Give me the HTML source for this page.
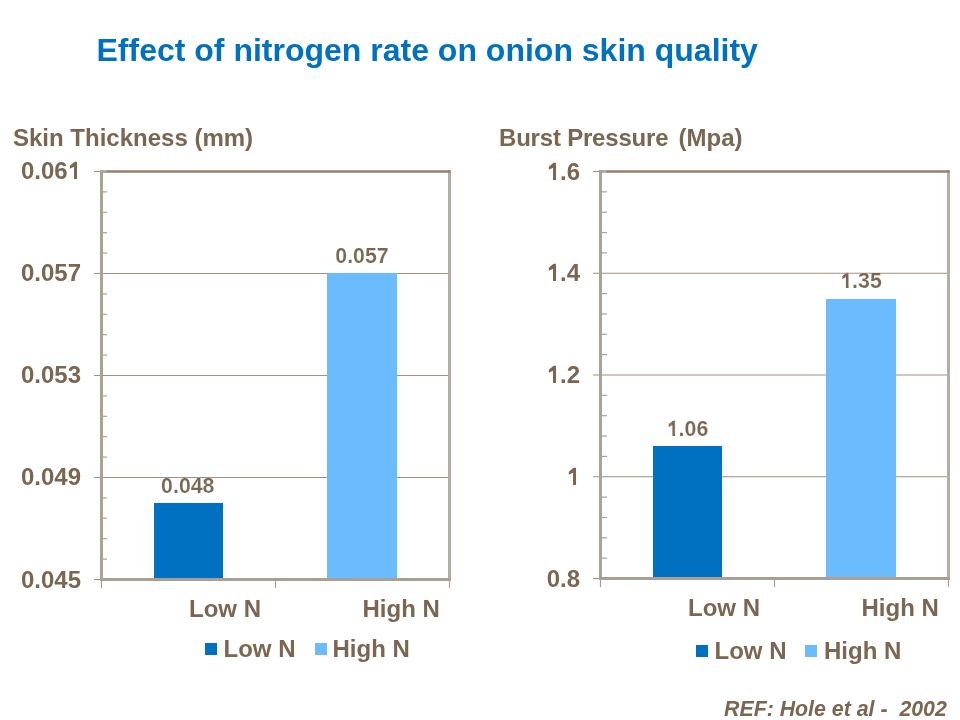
<!DOCTYPE html>
<html><head><meta charset="utf-8">
<style>
html,body{margin:0;padding:0;background:#fff;}
body{width:960px;height:720px;overflow:hidden;position:relative;}
svg{position:absolute;left:0;top:0;will-change:transform;}
text{font-family:"Liberation Sans",sans-serif;font-weight:bold;}
.t{fill:#7a6651;font-size:24px;}
.d{fill:#7a6651;font-size:21.33px;stroke:#fff;stroke-width:0.15px;}
</style></head>
<body>
<svg width="960" height="720" viewBox="0 0 960 720">
<defs><path id="one" d="M802 0L546 0L546 1040L187 870L187 1127L590 1466L802 1466Z"/></defs>
<g fill="#7a6651">
<use href="#one" transform="translate(67.640625,179) scale(0.01171875,-0.01171875)"/>
<use href="#one" transform="translate(546.625,180) scale(0.01171875,-0.01171875)"/>
<use href="#one" transform="translate(546.625,281) scale(0.01171875,-0.01171875)"/>
<use href="#one" transform="translate(546.625,383) scale(0.01171875,-0.01171875)"/>
<use href="#one" transform="translate(566.640625,485) scale(0.01171875,-0.01171875)"/>
<use href="#one" transform="translate(666.7421875,436) scale(0.010415,-0.010415)"/>
<use href="#one" transform="translate(840.2421875,288) scale(0.010415,-0.010415)"/>
</g>
<!-- title -->
<text x="96.5" y="60.5" style="font-size:32px;fill:#0070c0">Effect of nitrogen rate on onion skin quality</text>
<text class="t" x="13" y="146">Skin Thickness (mm)</text>
<text class="t" x="499" y="146" letter-spacing="-0.2">Burst Pressure</text><text class="t" x="678.5" y="146">(Mpa)</text>

<!-- LEFT CHART -->
<g>
<!-- gridlines -->
<g stroke="#9f9183" stroke-width="1.2">
<line x1="94" y1="273.5" x2="449.5" y2="273.5"/>
<line x1="94" y1="375.5" x2="449.5" y2="375.5"/>
<line x1="94" y1="477.5" x2="449.5" y2="477.5"/>
<line x1="94" y1="171.5" x2="100" y2="171.5"/>
<line x1="94" y1="579.5" x2="100" y2="579.5"/>
</g>
<!-- bars -->
<rect x="154" y="503" width="69" height="76.5" fill="#0070c0"/>
<rect x="327" y="273" width="70" height="306.5" fill="#6bbcff"/>
<!-- minor ticks -->
<g stroke="#aaa095" stroke-width="1.2">
<line x1="102" y1="191.9" x2="107" y2="191.9"/>
<line x1="102" y1="212.3" x2="107" y2="212.3"/>
<line x1="102" y1="232.7" x2="107" y2="232.7"/>
<line x1="102" y1="253.1" x2="107" y2="253.1"/>
<line x1="102" y1="293.9" x2="107" y2="293.9"/>
<line x1="102" y1="314.3" x2="107" y2="314.3"/>
<line x1="102" y1="334.7" x2="107" y2="334.7"/>
<line x1="102" y1="355.1" x2="107" y2="355.1"/>
<line x1="102" y1="395.9" x2="107" y2="395.9"/>
<line x1="102" y1="416.3" x2="107" y2="416.3"/>
<line x1="102" y1="436.7" x2="107" y2="436.7"/>
<line x1="102" y1="457.1" x2="107" y2="457.1"/>
<line x1="102" y1="497.9" x2="107" y2="497.9"/>
<line x1="102" y1="518.3" x2="107" y2="518.3"/>
<line x1="102" y1="538.7" x2="107" y2="538.7"/>
<line x1="102" y1="559.1" x2="107" y2="559.1"/>
<line x1="101.5" y1="580" x2="101.5" y2="588"/>
<line x1="275.5" y1="580" x2="275.5" y2="588"/>
<line x1="449.5" y1="580" x2="449.5" y2="588"/>
</g>
<!-- frame -->
<line x1="449.5" y1="170" x2="449.5" y2="581" stroke="#b7ada3" stroke-width="3"/>
<line x1="100" y1="579.5" x2="451" y2="579.5" stroke="#a99f94" stroke-width="3"/>
<line x1="107" y1="171.5" x2="449.5" y2="171.5" stroke="#928270" stroke-width="2.6" stroke-linecap="round"/>
<line x1="101.5" y1="170" x2="101.5" y2="581" stroke="#aba196" stroke-width="3"/>
<line x1="101" y1="171.5" x2="107" y2="171.5" stroke="#aba196" stroke-width="2.6"/>
<!-- labels -->
<g class="t" text-anchor="end">
<text x="81" y="179">0.06<tspan fill="transparent">1</tspan></text>
<text x="81" y="281">0.057</text>
<text x="81" y="383">0.053</text>
<text x="81" y="485">0.049</text>
<text x="81" y="588">0.045</text>
</g>
<text class="d" x="187.8" y="493" text-anchor="middle">0.048</text>
<text class="d" x="362" y="263" text-anchor="middle">0.057</text>
<text class="t" x="189" y="617">Low N</text>
<text class="t" x="362.5" y="617">High N</text>
<rect x="205" y="643" width="12" height="12" fill="#0070c0"/>
<text class="t" x="223.5" y="657">Low N</text>
<rect x="315" y="643" width="12" height="12" fill="#6bbcff"/>
<text class="t" x="332.5" y="657">High N</text>
</g>

<!-- RIGHT CHART -->
<g>
<g stroke="#9f9183" stroke-width="1.2">
<line x1="593" y1="273.25" x2="948.5" y2="273.25"/>
<line x1="593" y1="375" x2="948.5" y2="375"/>
<line x1="593" y1="476.75" x2="948.5" y2="476.75"/>
<line x1="593" y1="171.5" x2="599" y2="171.5"/>
<line x1="593" y1="578.5" x2="599" y2="578.5"/>
</g>
<rect x="653" y="446" width="69" height="132.5" fill="#0070c0"/>
<rect x="826" y="299" width="70" height="279.5" fill="#6bbcff"/>
<g stroke="#aaa095" stroke-width="1.2">
<line x1="601" y1="191.85" x2="607" y2="191.85"/>
<line x1="601" y1="212.2" x2="607" y2="212.2"/>
<line x1="601" y1="232.55" x2="607" y2="232.55"/>
<line x1="601" y1="252.9" x2="607" y2="252.9"/>
<line x1="601" y1="293.6" x2="607" y2="293.6"/>
<line x1="601" y1="313.95" x2="607" y2="313.95"/>
<line x1="601" y1="334.3" x2="607" y2="334.3"/>
<line x1="601" y1="354.65" x2="607" y2="354.65"/>
<line x1="601" y1="395.35" x2="607" y2="395.35"/>
<line x1="601" y1="415.7" x2="607" y2="415.7"/>
<line x1="601" y1="436.05" x2="607" y2="436.05"/>
<line x1="601" y1="456.4" x2="607" y2="456.4"/>
<line x1="601" y1="497.1" x2="607" y2="497.1"/>
<line x1="601" y1="517.45" x2="607" y2="517.45"/>
<line x1="601" y1="537.8" x2="607" y2="537.8"/>
<line x1="601" y1="558.15" x2="607" y2="558.15"/>
<line x1="600.5" y1="579" x2="600.5" y2="587"/>
<line x1="774.5" y1="579" x2="774.5" y2="587"/>
<line x1="948.5" y1="579" x2="948.5" y2="587"/>
</g>
<line x1="948.5" y1="170" x2="948.5" y2="580" stroke="#b7ada3" stroke-width="3"/>
<line x1="599" y1="578.5" x2="950" y2="578.5" stroke="#a99f94" stroke-width="3"/>
<line x1="607" y1="171.5" x2="948.5" y2="171.5" stroke="#928270" stroke-width="2.6" stroke-linecap="round"/>
<line x1="600.5" y1="170" x2="600.5" y2="580" stroke="#aba196" stroke-width="3"/>
<line x1="600" y1="171.5" x2="607" y2="171.5" stroke="#aba196" stroke-width="2.6"/>
<g class="t" text-anchor="end">
<text x="580" y="180"><tspan fill="transparent">1</tspan>.6</text>
<text x="580" y="281"><tspan fill="transparent">1</tspan>.4</text>
<text x="580" y="383"><tspan fill="transparent">1</tspan>.2</text>
<text x="580" y="485"><tspan fill="transparent">1</tspan></text>
<text x="580" y="587">0.8</text>
</g>
<text class="d" x="687.5" y="436" text-anchor="middle"><tspan fill="transparent">1</tspan>.06</text>
<text class="d" x="861" y="288" text-anchor="middle"><tspan fill="transparent">1</tspan>.35</text>
<text class="t" x="688" y="616">Low N</text>
<text class="t" x="861.5" y="616">High N</text>
<rect x="696" y="645" width="12" height="12" fill="#0070c0"/>
<text class="t" x="714.5" y="659">Low N</text>
<rect x="805" y="645" width="12" height="12" fill="#6bbcff"/>
<text class="t" x="824" y="659">High N</text>
</g>

<text x="724" y="716" style="font-size:21.33px;font-style:italic;fill:#7a6651" xml:space="preserve">REF: Hole et al -  2002</text>
</svg>
</body></html>
